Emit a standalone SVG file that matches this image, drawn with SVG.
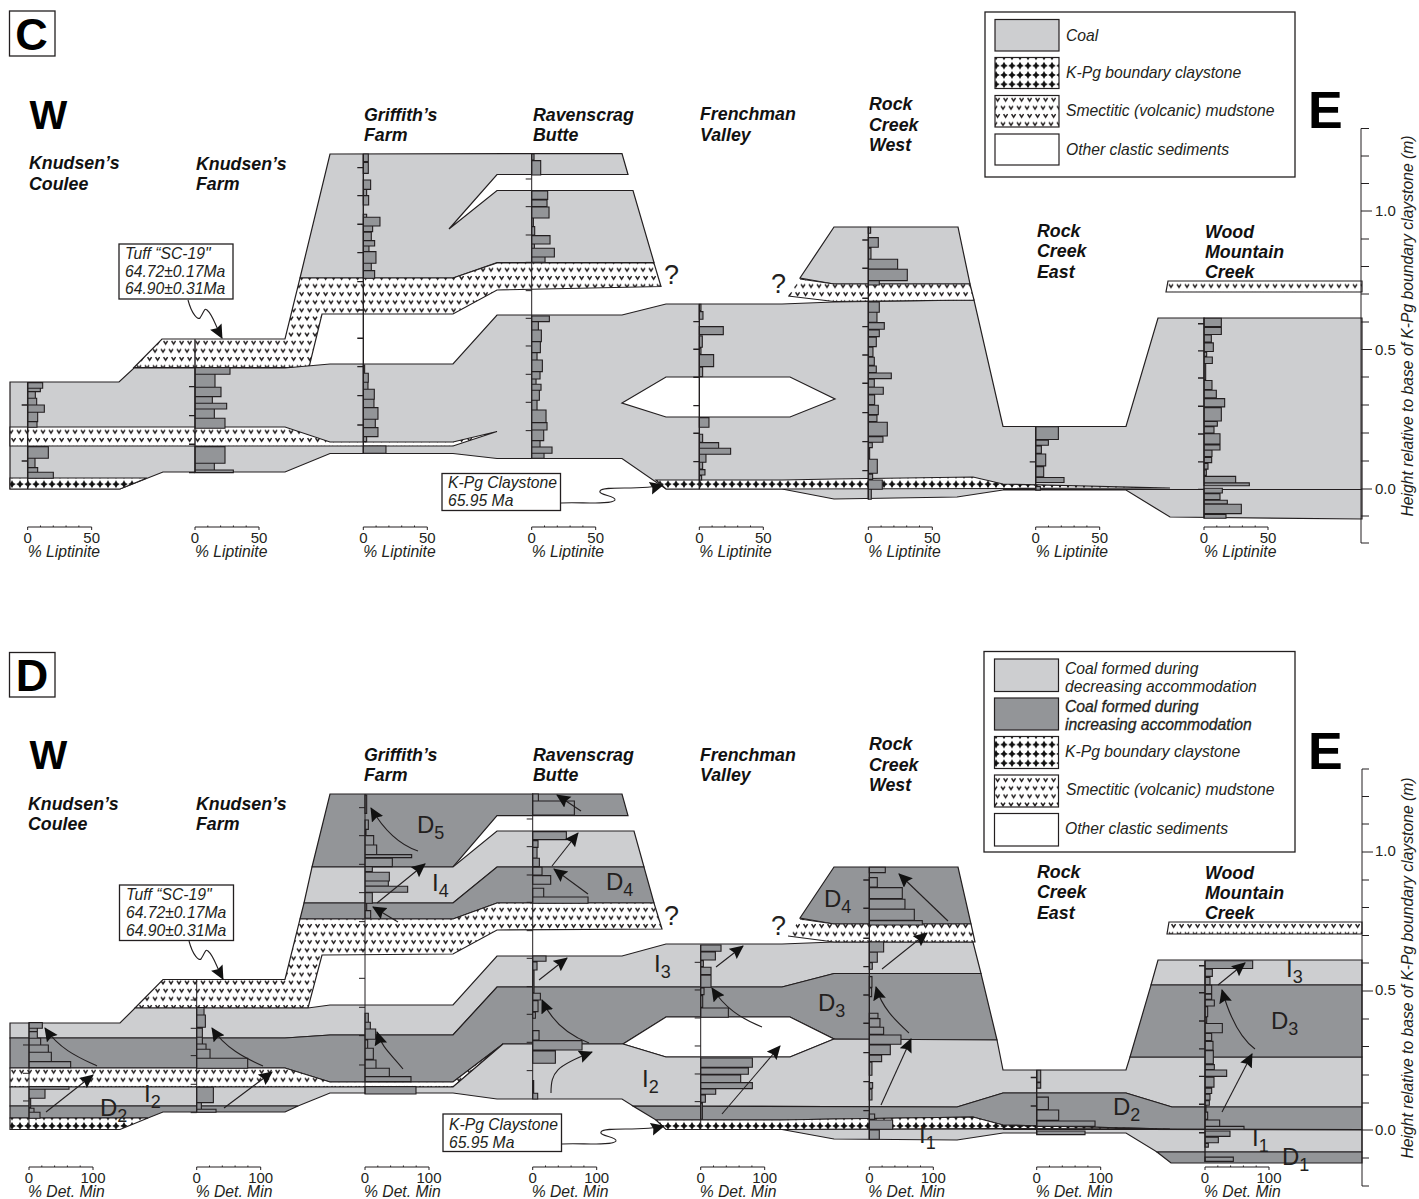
<svg xmlns="http://www.w3.org/2000/svg" width="1419" height="1199" viewBox="0 0 1419 1199">
<style>
text{font-family:"Liberation Sans",Arial,sans-serif;fill:#231f20}
.i{font-style:italic;font-size:15.7px}
.site{font-style:italic;font-weight:700;font-size:17.8px;fill:#111}
.big{font-weight:700;fill:#000}
.n{font-size:15px}
.lab{font-size:24px}
.q{font-size:27px}
.sub{font-size:18px}
.ln{stroke:#231f20;stroke-width:1.2;stroke-linejoin:miter}
.coal{fill:#cdced0}
.dark{fill:#939598}
.white{fill:#fff}
.sm{fill:url(#smect)}
.cl{fill:url(#clay)}
.bar{fill:#939598;stroke:#231f20;stroke-width:1.1;vector-effect:non-scaling-stroke}
.col{fill:none;stroke:#231f20;stroke-width:1.4;vector-effect:non-scaling-stroke}
.thin{stroke-width:1}
.box{fill:#fff;stroke:#231f20;stroke-width:1.3}
.ax{fill:none;stroke:#231f20;stroke-width:1}
.arr{fill:none;stroke:#231f20;stroke-width:1.1;marker-end:url(#ah)}
</style>
<defs>
<pattern id="smect" patternUnits="userSpaceOnUse" width="16" height="16.2" patternTransform="translate(0,282.7)">
<rect width="16" height="16.2" fill="#fff"/>
<path d="M1,1.5L3,4.5L5,1.5M9,1.5L11,4.5L13,1.5M3.6,9.6L5.6,12.6L7.6,9.6M11.6,9.6L13.6,12.6L15.6,9.6" fill="none" stroke="#231f20" stroke-width="1.5"/>
</pattern>
<pattern id="clay" patternUnits="userSpaceOnUse" width="8" height="9.3" patternTransform="translate(0,-4.05)">
<rect width="8" height="9.3" fill="#fff"/>
<path d="M4,0.8L5.4,3.3L7.8,4.65L5.4,6L4,8.5L2.6,6L0.2,4.65L2.6,3.3Z" fill="#111"/>
</pattern>
<marker id="ah" markerUnits="userSpaceOnUse" markerWidth="16" markerHeight="14" refX="13" refY="6.5" orient="auto">
<path d="M0,0L14,6.5L0,13L2,6.5Z" fill="#111"/>
</marker>
<g id="axis"><path class="ax" d="M0,3V0H64V3M12.8,0V-1.5M25.6,0V-1.5M38.4,0V-1.5M51.2,0V-1.5"/></g>
</defs>
<rect width="1419" height="1199" fill="#fff"/>

<g id="panel-c-strata">
<path class="coal ln" d="M330,154L622,153.5L628,174.5L497,174.5L449,229L497,190.5L633,190.5L654,262.5L497,262.5L453,278L300,278Z"/>
<path class="sm ln" d="M300,278L453,278L497,263L654,263L661,286.5L497,290L453,314L322,314L309,367.5L134,367.5L162,339L285,339Z"/>
<path class="coal ln" d="M10,382L119,382L134,368L285,368L330,364L453,364L497,315L622,315L666,304L782,304L834,302L974,300L1003,426.5L1126,426.5L1158,318L1362,318L1362,519L1170,517L1126,490L1003,490L957,497L834,499L782,489L666,489L622,458.5L497,458.5L453,453.5L330,453.5L285,472L163,472L120,489L10,489Z"/>
<path class="sm ln" d="M10,427L285,427L330,442L453,442L497,431.5L453,446L10,446Z"/>
<path class="cl ln" d="M10,478L147,478L120,489L10,489Z"/>
<path class="cl ln" d="M656,480L782,480L834,479L973,477L1003,484L1170,488L1003,488.5L782,489L666,489Z"/>
<path class="ln" d="M1003,489.5H1362" fill="none" stroke-width="2"/>
<path class="white ln" d="M622,403L666,377L790,377L835,399L790,417L666,417Z"/>
<path class="coal ln" d="M834,227L958,227L970,284L834,284L800,278Z"/>
<path class="sm ln" d="M800,279L834,284L970,284L974,300L834,301.5L788,296"/>
<path class="sm ln" d="M1168,281L1362,281L1362,292L1166,292Z"/>
</g>

<g id="panel-c-columns">
<g id="c-knudsens-coulee" transform="translate(27.67,130) scale(.3333)"><path class="bar" d="M0,758H45V775H0ZM0,775H38V785H0ZM0,785H23V805H0ZM0,805H27V825H0ZM0,825H50V847H0ZM0,847H30V875H0ZM0,875H28V892H0ZM0,950H62V985H0ZM0,985H22V1013H0ZM0,1013H30V1027H0ZM0,1027H77V1045H0Z"/><path class="col" d="M0,756V1077M-18,825H0M-18,993H0"/></g>
<g id="c-knudsens-farm" transform="translate(195,130) scale(.3333)"><path class="bar" d="M0,713H105V733H0ZM0,733H60V772H0ZM0,772H78V800H0ZM0,800H52V820H0ZM0,820H95V837H0ZM0,837H58V865H0ZM0,865H90V895H0ZM0,950H90V1000H0ZM0,1000H58V1020H0ZM0,1020H115V1028H0Z"/><path class="col" d="M0,628V1027M-18,770H0M-18,857H0M-18,943H0M-18,1028H0"/></g>
<g id="c-griffiths-farm" transform="translate(363.3,130) scale(.3333)"><path class="bar" d="M0,72H15V95H0ZM0,97H15V130H0ZM0,150H22V178H0ZM0,178H10V197H0ZM0,197H16V225H0ZM0,253H10V262H0ZM0,262H50V288H0ZM0,288H28V305H0ZM0,307H24V332H0ZM0,332H34V348H0ZM0,348H17V365H0ZM0,365H38V400H0ZM0,400H24V422H0ZM0,422H34V445H0ZM0,705H4V730H0ZM0,730H15V757H0ZM0,757H14V778H0ZM0,778H33V808H0ZM0,808H32V833H0ZM0,833H44V868H0ZM0,868H36V893H0ZM0,893H44V920H0ZM0,920H10V935H0ZM0,948H68V970H0Z"/><path class="col" d="M0,72V970M-18,113H0M-18,197H0M-18,283H0M-18,368H0M-18,455H0M-18,540H0M-18,625H0M-18,710H0M-18,797H0M-18,885H0"/></g>
<g id="c-ravenscrag-butte" transform="translate(531.7,130) scale(.3333)"><path class="bar" d="M0,72H7V90H0ZM0,92H27V135H0ZM0,183H48V208H0ZM0,210H46V230H0ZM0,231H52V264H0ZM0,264H5V290H0ZM0,290H9V315H0ZM0,317H55V342H0ZM0,342H8V355H0ZM0,355H68V381H0ZM0,381H40V397H0ZM0,558H53V575H0ZM0,575H20V600H0ZM0,600H29V635H0ZM0,635H26V668H0ZM0,668H16V690H0ZM0,690H32V725H0ZM0,725H25V747H0ZM0,747H13V763H0ZM0,763H28V781H0ZM0,781H23V811H0ZM0,811H16V840H0ZM0,840H43V878H0ZM0,878H46V900H0ZM0,900H36V932H0ZM0,932H25V951H0ZM0,951H61V970H0ZM0,970H37V985H0Z"/><path class="col thin" d="M0,70V985M-18,147H0M-18,230H0M-18,315H0M-18,397H0M-18,482H0M-18,565H0M-18,648H0M-18,733H0M-18,817H0M-18,902H0"/></g>
<g id="c-frenchman-valley" transform="translate(699.3,130) scale(.3333)"><path class="bar" d="M0,523H5V542H0ZM0,545H11V568H0ZM0,590H72V614H0ZM0,618H9V652H0ZM0,655H5V672H0ZM0,674H43V710H0ZM0,712H10V740H0ZM0,863H29V892H0ZM0,913H10V937H0ZM0,938H58V955H0ZM0,955H94V973H0ZM0,973H20V997H0ZM0,997H10V1017H0ZM0,1019H17V1035H0ZM0,1037H7V1050H0Z"/><path class="col" d="M0,523V1078M-18,575H0M-18,658H0M-18,742H0M-18,827H0M-18,910H0M-18,995H0"/></g>
<g id="c-rock-creek-west" transform="translate(868.3,130) scale(.3333)"><path class="bar" d="M0,292H7V310H0ZM0,323H30V352H0ZM0,355H8V387H0ZM0,388H88V417H0ZM0,418H117V452H0ZM0,452H33V465H0ZM0,516H33V547H0ZM0,547H26V577H0ZM0,578H48V598H0ZM0,600H33V620H0ZM0,622H24V650H0ZM0,652H14V680H0ZM0,682H18V706H0ZM0,708H24V728H0ZM0,729H69V746H0ZM0,748H18V771H0ZM0,772H45V793H0ZM0,795H19V824H0ZM0,826H30V854H0ZM0,856H26V875H0ZM0,877H57V918H0ZM0,920H44V937H0ZM0,938H12V953H0ZM0,955H4V985H0ZM0,988H27V1030H0ZM0,1033H13V1048H0ZM0,1050H42V1078H0ZM0,1078H9V1108H0Z"/><path class="col" d="M0,290V1108M-18,330H0M-18,415H0M-18,505H0M-18,590H0M-18,675H0M-18,760H0M-18,848H0M-18,935H0M-18,1022H0"/></g>
<g id="c-rock-creek-east" transform="translate(1035.7,0) scale(.3333,.3617)"><path class="bar" d="M0,1180H68V1215H0ZM0,1217H38V1231H0ZM0,1233H17V1253H0ZM0,1255H30V1288H0ZM0,1290H24V1318H0ZM0,1320H85V1334H0ZM0,1345H14V1355H0Z"/><path class="col" d="M0,1178V1355M-18,1277H0"/></g>
<g id="c-wood-mountain-creek" transform="translate(1204,0) scale(.3333,.3617)"><path class="bar" d="M0,880H52V903H0ZM0,905H52V925H0ZM0,926H22V946H0ZM0,948H28V972H0ZM0,974H8V985H0ZM0,987H25V1005H0ZM0,1005H5V1050H0ZM0,1052H24V1077H0ZM0,1079H37V1100H0ZM0,1102H62V1125H0ZM0,1127H52V1164H0ZM0,1165H40V1178H0ZM0,1180H30V1197H0ZM0,1199H48V1228H0ZM0,1230H48V1244H0ZM0,1245H24V1262H0ZM0,1265H23V1279H0ZM0,1281H12V1297H0ZM0,1299H7V1314H0ZM0,1317H95V1335H0ZM0,1335H136V1343H0ZM0,1350H55V1363H0ZM0,1365H48V1381H0ZM0,1383H70V1393H0ZM0,1394H112V1420H0ZM0,1422H66V1433H0Z"/><path class="col" d="M0,878V1433M-18,895H0M-18,970H0M-18,1045H0M-18,1123H0M-18,1200H0M-18,1277H0M-18,1353H0"/></g>
</g>

<g id="panel-c-axes">
<use href="#axis" x="27.67" y="527"/><use href="#axis" x="195" y="527"/><use href="#axis" x="363.3" y="527"/><use href="#axis" x="531.7" y="527"/><use href="#axis" x="699.3" y="527"/><use href="#axis" x="868.3" y="527"/><use href="#axis" x="1035.7" y="527"/><use href="#axis" x="1204" y="527"/>
<g text-anchor="middle">
<text class="n" x="27.7" y="543">0</text><text class="n" x="91.7" y="543">50</text>
<text class="n" x="195" y="543">0</text><text class="n" x="259" y="543">50</text>
<text class="n" x="363.3" y="543">0</text><text class="n" x="427.3" y="543">50</text>
<text class="n" x="531.7" y="543">0</text><text class="n" x="595.7" y="543">50</text>
<text class="n" x="699.3" y="543">0</text><text class="n" x="763.3" y="543">50</text>
<text class="n" x="868.3" y="543">0</text><text class="n" x="932.3" y="543">50</text>
<text class="n" x="1035.7" y="543">0</text><text class="n" x="1099.7" y="543">50</text>
<text class="n" x="1204" y="543">0</text><text class="n" x="1268" y="543">50</text>
</g>
<text class="i" x="27.7" y="557">% Liptinite</text><text class="i" x="195" y="557">% Liptinite</text><text class="i" x="363.3" y="557">% Liptinite</text><text class="i" x="531.7" y="557">% Liptinite</text><text class="i" x="699.3" y="557">% Liptinite</text><text class="i" x="868.3" y="557">% Liptinite</text><text class="i" x="1035.7" y="557">% Liptinite</text><text class="i" x="1204" y="557">% Liptinite</text>
<path class="ax" stroke-width="1.2" d="M1369,128.5H1361V543H1369M1361,156H1369M1361,183.5H1369M1361,211H1372M1361,239H1369M1361,266.5H1369M1361,294H1369M1361,322H1369M1361,349.5H1372M1361,377H1369M1361,405H1369M1361,433H1369M1361,461H1369M1361,489H1372M1361,516H1369"/>
<text class="n" x="1375" y="216">1.0</text><text class="n" x="1375" y="355">0.5</text><text class="n" x="1375" y="494">0.0</text>
<text class="i" transform="translate(1413,326) rotate(-90)" text-anchor="middle">Height relative to base of K-Pg boundary claystone (m)</text>
</g>

<g id="panel-c-labels">
<rect class="box" x="9.5" y="11" width="45.5" height="45"/><text class="big" x="31.5" y="49.5" font-size="45" text-anchor="middle">C</text>
<text class="big" x="29.5" y="128.5" font-size="40">W</text>
<text class="big" x="1308" y="128" font-size="52">E</text>
<text class="site" x="29" y="169">Knudsen’s</text><text class="site" x="29" y="190">Coulee</text>
<text class="site" x="196" y="170">Knudsen’s</text><text class="site" x="196" y="190">Farm</text>
<text class="site" x="364" y="121">Griffith’s</text><text class="site" x="364" y="141">Farm</text>
<text class="site" x="533" y="121">Ravenscrag</text><text class="site" x="533" y="141">Butte</text>
<text class="site" x="700" y="120">Frenchman</text><text class="site" x="700" y="141">Valley</text>
<text class="site" x="869" y="110">Rock</text><text class="site" x="869" y="131">Creek</text><text class="site" x="869" y="151">West</text>
<text class="site" x="1037" y="237">Rock</text><text class="site" x="1037" y="257">Creek</text><text class="site" x="1037" y="278">East</text>
<text class="site" x="1205" y="238">Wood</text><text class="site" x="1205" y="258">Mountain</text><text class="site" x="1205" y="278">Creek</text>
<text class="q" x="664" y="284">?</text><text class="q" x="771" y="293">?</text>
</g>
<g id="c-legend">
<rect class="box" x="985" y="12" width="310" height="165"/>
<rect class="coal ln" x="995" y="19.5" width="64" height="31.5"/>
<rect class="cl ln" x="995" y="57.5" width="64" height="31"/>
<rect class="sm ln" x="995" y="95.5" width="64" height="31.5"/>
<rect class="white ln" x="995" y="134" width="64" height="31"/>
<text class="i" x="1066" y="41">Coal</text><text class="i" x="1066" y="78">K-Pg boundary claystone</text><text class="i" x="1066" y="116">Smectitic (volcanic) mudstone</text><text class="i" x="1066" y="155">Other clastic sediments</text>
</g>
<g id="c-tuff-callout">
<rect class="box" x="119" y="244" width="114" height="55"/>
<text class="i" x="125" y="259">Tuff “SC-19"</text><text class="i" x="125" y="277">64.72±0.17Ma</text><text class="i" x="125" y="294">64.90±0.31Ma</text>
</g>
<g id="c-kpg-callout">
<rect class="box" x="442" y="473.5" width="118.5" height="37"/>
<text class="i" x="448" y="488">K-Pg Claystone</text><text class="i" x="448" y="506">65.95 Ma</text>
</g>

<g id="panel-d-strata">
<path class="dark ln" d="M330,794L622,794L628,815.7L497,815.7L453,867L312,867Z"/>
<path class="coal ln" d="M312,867L453,867L497,831L634,831L644,867L497,867L453,903L304,903Z"/>
<path class="dark ln" d="M304,903L453,903L497,867L644,867L654,903L497,903L453,919L300,919Z"/>
<path class="sm ln" d="M300,919L453,919L497,903L654,903L662,929L497,930L453,954L322,955L308,1008L135,1008L163,979.5L285,979.5Z"/>
<path class="coal ln" d="M10,1023L120,1023L135,1008L308,1008L330,1005L453,1005L497,956L622,956L666,944L782,944L834,942L973,942L981,973.5L834,973.5L782,987L497,987L453,1035L330,1035L285,1038L10,1038Z"/>
<path class="dark ln" d="M10,1038L285,1038L330,1035L453,1035L497,987L782,987L834,973.5L981,973.5L997,1040L834,1039L790,1017L666,1017L623,1044L503,1044L453,1082L330,1082L285,1068L10,1068Z"/>
<path class="sm ln" d="M10,1068L285,1068L330,1082L453,1082L503,1044L453,1087L10,1087Z"/>
<path class="white ln" d="M623,1044L666,1017L790,1017L834,1039L790,1057L666,1057Z"/>
<path class="coal ln" d="M10,1087L453,1087L503,1044L623,1044L666,1057L790,1057L834,1039L997,1040L1003,1070L1126,1070L1130,1057L1362,1057L1362,1107L1172,1107L1126,1093L1003,1093L957,1107L633,1106L622,1099L497,1099L453,1093L330,1093L298,1106L10,1106Z"/>
<path class="dark ln" d="M10,1106L298,1106L285,1112L163,1112L148,1118L10,1118Z"/>
<path class="dark ln" d="M633,1106L957,1107L1003,1093L1126,1093L1172,1107L1362,1107L1362,1129.5L1170,1129L1003,1125L973,1117L834,1119L782,1120L656,1120Z"/>
<path class="cl ln" d="M10,1118L148,1118L120,1129.5L10,1129.5Z"/>
<path class="cl ln" d="M656,1120L782,1120L834,1119L973,1117L1003,1125L1170,1129L1003,1128.5L782,1129.5L666,1129.5Z"/>
<path class="coal ln" d="M782,1129.5L1003,1129L1362,1130L1362,1152L1157,1152L1126,1133L1003,1133L957,1140L834,1139Z"/>
<path class="dark ln" d="M1157,1152L1362,1152L1362,1163L1171,1163Z"/>
<path class="ln" d="M1003,1129.5H1362" fill="none" stroke-width="2"/>
<path class="coal ln" d="M1158,960L1362,960L1362,985L1151,985Z"/>
<path class="dark ln" d="M1151,985L1362,985L1362,1057L1130,1057Z"/>
<path class="dark ln" d="M834,867L958,867L971,924L834,924L800,918Z"/>
<path class="sm ln" d="M800,919L834,924L971,924L975,942L834,942L788,936"/>
<path class="sm ln" d="M1169,922L1362,922L1362,934L1167,934Z"/>
</g>

<g id="panel-d-columns">
<g id="d-knudsens-coulee" transform="translate(29,770) scale(.3333)"><path class="bar" d="M0,758H40V775H0ZM0,775H25V785H0ZM0,785H25V805H0ZM0,805H35V825H0ZM0,825H58V847H0ZM0,847H67V875H0ZM0,875H125V893H0ZM0,950H120V958H0ZM0,958H48V985H0ZM0,985H5V1013H0ZM0,1015H15V1027H0ZM0,1027H33V1045H0Z"/><path class="col thin" d="M0,758V1078M-18,825H0M-18,910H0M-18,993H0"/></g>
<g id="d-knudsens-farm" transform="translate(196.7,770) scale(.3333)"><path class="bar" d="M0,713H22V735H0ZM0,735H26V772H0ZM0,775H17V802H0ZM0,802H17V822H0ZM0,822H28V838H0ZM0,838H40V865H0ZM0,865H153V895H0ZM0,952H50V998H0ZM0,998H14V1018H0ZM0,1018H58V1027H0Z"/><path class="col thin" d="M0,628V1027M-18,690H0M-18,775H0M-18,857H0M-18,943H0M-18,1028H0"/></g>
<g id="d-griffiths-farm" transform="translate(365,770) scale(.3333)"><path class="bar" d="M0,75H5V130H0ZM0,150H10V178H0ZM0,178H3V197H0ZM0,197H26V225H0ZM0,225H35V254H0ZM0,254H140V263H0ZM0,265H82V290H0ZM0,290H22V305H0ZM0,307H73V333H0ZM0,333H70V348H0ZM0,349H128V367H0ZM0,368H22V400H0ZM0,400H5V422H0ZM0,422H17V445H0ZM0,730H10V757H0ZM0,757H16V777H0ZM0,777H32V808H0ZM0,810H8V835H0ZM0,835H25V868H0ZM0,870H33V895H0ZM0,895H73V920H0ZM0,920H138V935H0ZM0,950H153V972H0Z"/><path class="col thin" d="M0,72V972M-18,113H0M-18,197H0M-18,283H0M-18,368H0M-18,455H0M-18,540H0M-18,625H0M-18,712H0M-18,797H0M-18,885H0"/></g>
<g id="d-ravenscrag-butte" transform="translate(532.7,770) scale(.3333)"><path class="bar" d="M0,72H17V93H0ZM0,93H125V135H0ZM0,185H101V209H0ZM0,212H16V232H0ZM0,232H13V264H0ZM0,265H20V290H0ZM0,292H28V315H0ZM0,317H54V343H0ZM0,355H33V381H0ZM0,381H166V400H0ZM0,558H40V574H0ZM0,576H13V600H0ZM0,600H4V668H0ZM0,670H23V690H0ZM0,692H16V725H0ZM0,727H8V745H0ZM0,782H19V810H0ZM0,812H148V840H0ZM0,843H68V880H0ZM0,932H3V968H0ZM0,970H15V987H0Z"/><path class="col thin" d="M0,70V987M-18,147H0M-18,230H0M-18,315H0M-18,397H0M-18,482H0M-18,565H0M-18,650H0M-18,733H0M-18,817H0M-18,902H0"/></g>
<g id="d-frenchman-valley" transform="translate(700.7,770) scale(.3333)"><path class="bar" d="M0,525H61V544H0ZM0,546H44V570H0ZM0,572H8V590H0ZM0,592H31V614H0ZM0,616H31V652H0ZM0,654H10V674H0ZM0,677H6V712H0ZM0,714H83V742H0ZM0,864H155V892H0ZM0,894H143V913H0ZM0,915H120V938H0ZM0,938H155V956H0ZM0,957H45V973H0ZM0,975H14V997H0ZM0,1000H5V1048H0Z"/><path class="col thin" d="M0,525V1078M-18,577H0M-18,660H0M-18,744H0M-18,828H0M-18,912H0M-18,995H0"/></g>
<g id="d-rock-creek-west" transform="translate(869.3,770) scale(.3333)"><path class="bar" d="M0,292H48V308H0ZM0,323H24V351H0ZM0,353H99V386H0ZM0,388H107V417H0ZM0,418H135V451H0ZM0,452H159V465H0ZM0,516H43V546H0ZM0,547H24V577H0ZM0,578H9V598H0ZM0,620H8V652H0ZM0,654H7V680H0ZM0,730H26V745H0ZM0,746H32V771H0ZM0,772H43V793H0ZM0,795H95V823H0ZM0,825H63V854H0ZM0,856H37V875H0ZM0,877H8V916H0ZM0,938H10V955H0ZM0,958H8V990H0ZM0,1032H16V1048H0ZM0,1050H70V1078H0ZM0,1080H30V1108H0Z"/><path class="col" d="M0,292V1108M-18,330H0M-18,415H0M-18,505H0M-18,590H0M-18,675H0M-18,760H0M-18,848H0M-18,935H0M-18,1022H0"/></g>
<g id="d-rock-creek-east" transform="translate(1036.7,640) scale(.3333,.3571)"><path class="bar" d="M0,1205H12V1238H0ZM0,1240H12V1255H0ZM0,1280H35V1315H0ZM0,1316H66V1345H0ZM0,1347H175V1362H0ZM0,1375H145V1385H0Z"/><path class="col" d="M0,1205V1385M-18,1225H0M-18,1305H0"/></g>
<g id="d-wood-mountain-creek" transform="translate(1205,640) scale(.3333,.3571)"><path class="bar" d="M0,898H143V920H0ZM0,922H22V942H0ZM0,945H15V965H0ZM0,967H20V990H0ZM0,992H20V1006H0ZM0,1008H28V1025H0ZM0,1027H8V1055H0ZM0,1057H5V1072H0ZM0,1074H52V1100H0ZM0,1102H20V1122H0ZM0,1124H24V1148H0ZM0,1150H25V1187H0ZM0,1189H28V1203H0ZM0,1204H65V1222H0ZM0,1224H27V1252H0ZM0,1255H20V1270H0ZM0,1272H15V1288H0ZM0,1290H13V1303H0ZM0,1305H3V1320H0ZM0,1322H8V1342H0ZM0,1344H44V1362H0ZM0,1362H117V1370H0ZM0,1375H75V1390H0ZM0,1392H40V1408H0ZM0,1410H10V1420H0ZM0,1448H85V1460H0Z"/><path class="col" d="M0,898V1462M-18,912H0M-18,988H0M-18,1067H0M-18,1145H0M-18,1222H0M-18,1300H0M-18,1380H0"/></g>
</g>

<g id="connectors">
<path class="arr" d="M97,1066C80,1058 60,1050 45,1028"/>
<path class="arr" d="M263,1066C245,1058 225,1048 212,1028"/>
<path class="arr" d="M46,1112L93,1075"/>
<path class="arr" d="M224,1108L272,1072"/>
<path class="arr" d="M403,1069C392,1055 382,1048 377,1032"/>
<path class="arr" d="M418,851C400,845 385,832 371,808"/>
<path class="arr" d="M377,903L425,864"/>
<path class="arr" d="M398,922L373,907"/>
<path class="arr" d="M581,811L557,795"/>
<path class="arr" d="M552,866L578,833"/>
<path class="arr" d="M588,894L554,869"/>
<path class="arr" d="M539,980L567,958"/>
<path class="arr" d="M589,1043C568,1035 552,1022 542,1000"/>
<path class="arr" d="M551,1093C551,1072 556,1066 592,1052"/>
<path class="arr" d="M716,967L743,946"/>
<path class="arr" d="M762,1027C740,1018 725,1008 712,988"/>
<path class="arr" d="M722,1114L780,1046"/>
<path class="arr" d="M882,969L927,933"/>
<path class="arr" d="M948,921L899,874"/>
<path class="arr" d="M909,1033C895,1020 882,1008 876,987"/>
<path class="arr" d="M881,1105L911,1039"/>
<path class="arr" d="M1218,985L1245,963"/>
<path class="arr" d="M1255,1049C1240,1038 1230,1018 1222,990"/>
<path class="arr" d="M1222,1112L1252,1054"/>
<path class="arr" d="M188,300C192,315 198,320 200,318C205,310 204,308 207,310C213,315 215,325 222,338"/>
<path class="arr" d="M561,503C580,502 612,505 615,500C616,496 598,495 600,491C604,485 640,491 663,485"/>
<path class="arr" d="M189,941C193,956 199,961 201,959C206,951 205,949 208,951C214,956 216,966 223,979"/>
<path class="arr" d="M562,1144C581,1143 613,1146 616,1141C617,1137 599,1136 601,1132C605,1126 641,1132 664,1126"/>
</g>

<g id="panel-d-axes">
<use href="#axis" x="29" y="1167"/><use href="#axis" x="196.7" y="1167"/><use href="#axis" x="365" y="1167"/><use href="#axis" x="532.7" y="1167"/><use href="#axis" x="700.7" y="1167"/><use href="#axis" x="869.3" y="1167"/><use href="#axis" x="1036.7" y="1167"/><use href="#axis" x="1205" y="1167"/>
<g text-anchor="middle">
<text class="n" x="29" y="1183">0</text><text class="n" x="93" y="1183">100</text>
<text class="n" x="196.7" y="1183">0</text><text class="n" x="260.7" y="1183">100</text>
<text class="n" x="365" y="1183">0</text><text class="n" x="429" y="1183">100</text>
<text class="n" x="532.7" y="1183">0</text><text class="n" x="596.7" y="1183">100</text>
<text class="n" x="700.7" y="1183">0</text><text class="n" x="764.7" y="1183">100</text>
<text class="n" x="869.3" y="1183">0</text><text class="n" x="933.3" y="1183">100</text>
<text class="n" x="1036.7" y="1183">0</text><text class="n" x="1100.7" y="1183">100</text>
<text class="n" x="1205" y="1183">0</text><text class="n" x="1269" y="1183">100</text>
</g>
<text class="i" x="28" y="1197">% Det. Min</text><text class="i" x="195.7" y="1197">% Det. Min</text><text class="i" x="364" y="1197">% Det. Min</text><text class="i" x="531.7" y="1197">% Det. Min</text><text class="i" x="699.7" y="1197">% Det. Min</text><text class="i" x="868.3" y="1197">% Det. Min</text><text class="i" x="1035.7" y="1197">% Det. Min</text><text class="i" x="1204" y="1197">% Det. Min</text>
<path class="ax" stroke-width="1.2" d="M1369,769H1362V1186H1369M1362,796.5H1369M1362,824H1369M1362,852H1373M1362,880H1369M1362,907.5H1369M1362,935.5H1369M1362,963H1369M1362,991H1373M1362,1019H1369M1362,1046.5H1369M1362,1075H1369M1362,1103H1369M1362,1130H1373M1362,1158H1369"/>
<text class="n" x="1375" y="856">1.0</text><text class="n" x="1375" y="995">0.5</text><text class="n" x="1375" y="1135">0.0</text>
<text class="i" transform="translate(1413,968) rotate(-90)" text-anchor="middle">Height relative to base of K-Pg boundary claystone (m)</text>
</g>

<g id="panel-d-labels">
<rect class="box" x="9.5" y="652.5" width="45.5" height="44.5"/><text class="big" x="32" y="691" font-size="45" text-anchor="middle">D</text>
<text class="big" x="29.5" y="769" font-size="40">W</text>
<text class="big" x="1308" y="769" font-size="52">E</text>
<text class="site" x="28" y="810">Knudsen’s</text><text class="site" x="28" y="830">Coulee</text>
<text class="site" x="196" y="810">Knudsen’s</text><text class="site" x="196" y="830">Farm</text>
<text class="site" x="364" y="761">Griffith’s</text><text class="site" x="364" y="781">Farm</text>
<text class="site" x="533" y="761">Ravenscrag</text><text class="site" x="533" y="781">Butte</text>
<text class="site" x="700" y="761">Frenchman</text><text class="site" x="700" y="781">Valley</text>
<text class="site" x="869" y="750">Rock</text><text class="site" x="869" y="771">Creek</text><text class="site" x="869" y="791">West</text>
<text class="site" x="1037" y="878">Rock</text><text class="site" x="1037" y="898">Creek</text><text class="site" x="1037" y="919">East</text>
<text class="site" x="1205" y="879">Wood</text><text class="site" x="1205" y="899">Mountain</text><text class="site" x="1205" y="919">Creek</text>
<text class="q" x="664" y="925">?</text><text class="q" x="771" y="935">?</text>
<text class="lab" x="417" y="833">D<tspan class="sub" dy="6">5</tspan></text>
<text class="lab" x="432" y="891">I<tspan class="sub" dy="6">4</tspan></text>
<text class="lab" x="100" y="1116">D<tspan class="sub" dy="6">2</tspan></text>
<text class="lab" x="144" y="1102">I<tspan class="sub" dy="6">2</tspan></text>
<text class="lab" x="606" y="890">D<tspan class="sub" dy="6">4</tspan></text>
<text class="lab" x="654" y="972">I<tspan class="sub" dy="6">3</tspan></text>
<text class="lab" x="642" y="1087">I<tspan class="sub" dy="6">2</tspan></text>
<text class="lab" x="824" y="907">D<tspan class="sub" dy="6">4</tspan></text>
<text class="lab" x="818" y="1011">D<tspan class="sub" dy="6">3</tspan></text>
<text class="lab" x="919" y="1143">I<tspan class="sub" dy="6">1</tspan></text>
<text class="lab" x="1113" y="1115">D<tspan class="sub" dy="6">2</tspan></text>
<text class="lab" x="1286" y="977">I<tspan class="sub" dy="6">3</tspan></text>
<text class="lab" x="1271" y="1029">D<tspan class="sub" dy="6">3</tspan></text>
<text class="lab" x="1252" y="1146">I<tspan class="sub" dy="6">1</tspan></text>
<text class="lab" x="1282" y="1165">D<tspan class="sub" dy="6">1</tspan></text>
</g>
<g id="d-legend">
<rect class="box" x="984" y="651.5" width="311" height="200.5"/>
<rect class="coal ln" x="994.5" y="659" width="64" height="32.5"/>
<rect class="dark ln" x="994.5" y="698" width="64" height="32"/>
<rect class="cl ln" x="994.5" y="736.5" width="64" height="32"/>
<rect class="sm ln" x="994.5" y="775" width="64" height="32"/>
<rect class="white ln" x="994.5" y="813.5" width="64" height="32.5"/>
<text class="i" x="1065" y="674">Coal formed during</text><text class="i" x="1065" y="691.5">decreasing accommodation</text>
<text class="i" x="1065" y="712" stroke="#231f20" stroke-width=".3">Coal formed during</text><text class="i" x="1065" y="730" stroke="#231f20" stroke-width=".3">increasing accommodation</text>
<text class="i" x="1065" y="757">K-Pg boundary claystone</text><text class="i" x="1066" y="795">Smectitic (volcanic) mudstone</text><text class="i" x="1065" y="834">Other clastic sediments</text>
</g>
<g id="d-tuff-callout">
<rect class="box" x="119.5" y="885" width="114" height="55.5"/>
<text class="i" x="126" y="900">Tuff “SC-19"</text><text class="i" x="126" y="918">64.72±0.17Ma</text><text class="i" x="126" y="936">64.90±0.31Ma</text>
</g>
<g id="d-kpg-callout">
<rect class="box" x="443" y="1114" width="118.5" height="37.5"/>
<text class="i" x="449" y="1130">K-Pg Claystone</text><text class="i" x="449" y="1148">65.95 Ma</text>
</g>
</svg>
